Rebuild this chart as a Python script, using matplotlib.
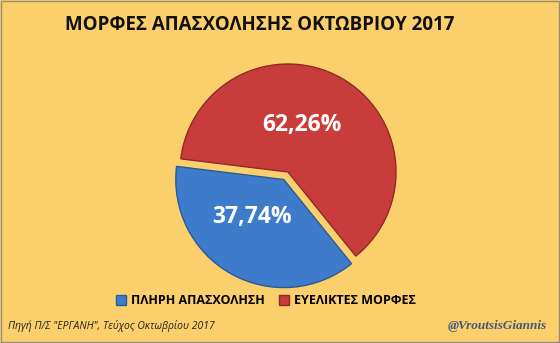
import matplotlib
matplotlib.use("Agg")
import matplotlib.pyplot as plt
from matplotlib.patches import Rectangle

# Δεδομένα
labels = ["ΠΛΗΡΗ ΑΠΑΣΧΟΛΗΣΗ", "ΕΥΕΛΙΚΤΕΣ ΜΟΡΦΕΣ"]
values = [37.74, 62.26]
pct_text = ["37,74%", "62,26%"]
colors = ["#3E7CCB", "#C83C3B"]
edges = ["#2A5A98", "#8E2A28"]
explode = [0.08, 0.0]

title = "ΜΟΡΦΕΣ ΑΠΑΣΧΟΛΗΣΗΣ ΟΚΤΩΒΡΙΟΥ 2017"
source = "Πηγή Π/Σ \"ΕΡΓΑΝΗ\", Τεύχος Οκτωβρίου 2017"
mark = "@VroutsisGiannis"

bg = "#FBD06C"
W, H = 560, 343

fig = plt.figure(figsize=(W / 100, H / 100), dpi=100, facecolor=bg)
plt.rcParams['font.family'] = ['Open Sans', 'DejaVu Sans']

# πλαίσιο
fig.patches.append(Rectangle((0.002, 0.003), 0.996, 0.994, transform=fig.transFigure,
                             fill=False, edgecolor="#9A8F70", linewidth=1.0))

# pie: κέντρο (288,172) px, ακτίνα 108 px
cx, cy, r = 288, 172, 108
ax = fig.add_axes([(cx - 1.5 * r) / W, (H - cy - 1.5 * r) / H, 3 * r / W, 3 * r / H])

wedges, _ = ax.pie(values, colors=colors, explode=explode, startangle=173,
                   counterclock=True, radius=1.0,
                   wedgeprops=dict(linewidth=1.0))
for w, e in zip(wedges, edges):
    w.set_edgecolor(e)
ax.set_xlim(-1.5, 1.5)
ax.set_ylim(-1.5, 1.5)
ax.set_aspect("equal")
ax.axis("off")

# ετικέτες ποσοστών
ax.text((252 - cx) / r, -(217 - cy) / r, pct_text[0], color="white", fontsize=16.5,
        fontweight="bold", ha="center", va="center")
ax.text((302 - cx) / r, -(125 - cy) / r, pct_text[1], color="white", fontsize=16.5,
        fontweight="bold", ha="center", va="center")

fig.text(260 / W, 1 - 25 / H, title, ha="center", va="center", fontsize=13.5,
         fontweight="bold", color="#111111")

leg = fig.legend(wedges, labels, loc="center", bbox_to_anchor=(266 / W, 1 - 301 / H),
                 ncol=2, frameon=False, handlelength=0.8, handleheight=0.8,
                 handletextpad=0.4, columnspacing=1.2,
                 prop=dict(weight="bold", size=9))

fig.text(8 / W, 1 - 326 / H, source, ha="left", va="center", fontsize=7.5,
         style="italic", color="#222222")
fig.text(547 / W, 1 - 326 / H, mark, ha="right", va="center", fontsize=9.5,
         style="italic", fontweight="bold", family="Liberation Serif", color="#44577A")

fig.savefig("out.png", dpi=100, facecolor=bg)
